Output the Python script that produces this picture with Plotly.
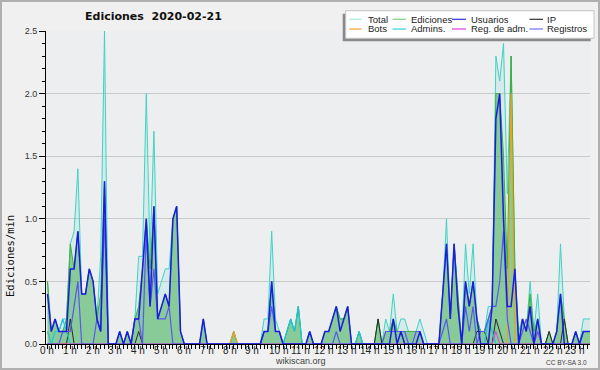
import plotly.graph_objects as go

# ---------------- data (edits per minute, 10-minute bins, 2020-02-21) ----------------
HOUR_LABELS = ["0 h", "1 h", "2 h", "3 h", "4 h", "5 h", "6 h", "7 h", "8 h", "9 h",
               "10 h", "11 h", "12 h", "13 h", "14 h", "15 h", "16 h", "17 h", "18 h",
               "19 h", "20 h", "21 h", "22 h", "23 h"]

TOTAL = [
    .5, .1, .2, .1, .2, .2,
    .8, .9, 1.4, .4, .4, .6,
    .5, .2, .7, 2.5, 0, 0,
    0, .1, 0, .1, 0, .2,
    .7, .7, 2.0, .7, 1.7, .4,
    .5, .6, .6, 1.0, 1.1, .1,
    0, 0, 0, 0, 0, .2,
    0, 0, 0, 0, 0, 0,
    0, .1, 0, 0, 0, 0,
    0, 0, 0, .2, .2, .9,
    .2, .1, 0, .1, .2, .1,
    .3, 0, 0, .1, 0, 0,
    0, .1, .1, .2, .3, .2,
    .2, .3, 0, 0, .1, 0,
    0, 0, 0, .2, 0, .2,
    .1, .4, .1, .2, .2, .1,
    .1, .1, .2, .1, 0, 0,
    0, 0, .4, 1.0, .2, .8,
    .4, 0, .8, .4, .8, .2,
    .1, .1, .3, .3, 2.3, 2.1,
    2.4, 1.2, 2.3, .6, .1, .2,
    .1, .5, .1, .4, 0, 0,
    .1, 0, .1, .8, .2, 0,
    0, .1, 0, .2, .2, .2,
]

EDICIONES = [
    .5, .1, .2, .1, .1, .2,
    .8, .6, .9, .4, .4, .6,
    .5, .2, .4, 1.3, 0, 0,
    0, .1, 0, .1, 0, .2,
    .3, .6, 1.0, .6, 1.1, .2,
    .3, .4, .3, 1.0, 1.1, .1,
    0, 0, 0, 0, 0, .2,
    0, 0, 0, 0, 0, 0,
    0, .1, 0, 0, 0, 0,
    0, 0, 0, .1, .1, .5,
    .1, .1, 0, .1, .2, .1,
    .3, 0, 0, .1, 0, 0,
    0, .1, .1, .2, .3, .2,
    .2, .3, 0, 0, .1, 0,
    0, 0, 0, .2, 0, .1,
    .1, .2, .1, .1, .1, .1,
    .1, .1, .1, 0, 0, 0,
    0, 0, .4, .8, .2, .8,
    .4, 0, .5, .3, .5, .2,
    .1, .1, .2, .3, 2.0, 2.0,
    1.5, .6, 2.3, .6, 0, .2,
    .1, .4, .1, .2, 0, 0,
    .1, 0, .1, .4, .2, 0,
    0, .1, 0, .1, .1, .1,
]

USUARIOS = [
    .4, .1, .2, .1, .1, .1,
    .6, .6, .9, .4, .4, .6,
    .5, .2, .1, 1.3, 0, 0,
    0, .1, 0, .1, 0, .2,
    .2, .6, 1.0, .3, 1.1, .2,
    .3, .4, .3, 1.0, 1.1, .1,
    0, 0, 0, 0, 0, .2,
    0, 0, 0, 0, 0, 0,
    0, 0, 0, 0, 0, 0,
    0, 0, 0, .1, .1, .5,
    .1, .1, 0, 0, 0, 0,
    0, 0, 0, .1, 0, 0,
    0, .1, .1, .2, .3, .1,
    .2, .3, 0, 0, 0, 0,
    0, 0, 0, 0, 0, 0,
    0, .2, 0, .1, 0, 0,
    0, 0, .1, 0, 0, 0,
    0, 0, .4, .8, .2, .8,
    .3, 0, .5, .3, .5, .2,
    0, 0, 0, .3, 1.8, 2.0,
    1.0, .3, .3, .6, 0, .2,
    .1, .3, 0, .2, 0, 0,
    0, 0, .1, .4, 0, 0,
    0, .1, 0, .1, .1, .1,
]

IP = [
    0, 0, 0, 0, 0, 0,
    .2, 0, 0, 0, 0, 0,
    0, 0, 0, 0, 0, 0,
    0, 0, 0, 0, 0, 0,
    .1, 0, 0, 0, 0, 0,
    0, 0, 0, 0, 0, 0,
    0, 0, 0, 0, 0, 0,
    0, 0, 0, 0, 0, 0,
    0, 0, 0, 0, 0, 0,
    0, 0, 0, 0, 0, 0,
    0, 0, 0, 0, 0, 0,
    0, 0, 0, 0, 0, 0,
    0, 0, 0, 0, 0, 0,
    0, 0, 0, 0, 0, 0,
    0, 0, 0, .2, 0, 0,
    0, 0, 0, 0, 0, 0,
    0, 0, 0, 0, 0, 0,
    0, 0, 0, 0, 0, 0,
    0, 0, 0, 0, 0, .1,
    .1, .1, 0, 0, .2, .1,
    0, 0, 0, 0, 0, 0,
    0, 0, 0, 0, 0, 0,
    .1, 0, 0, 0, .2, 0,
    0, 0, 0, 0, 0, 0,
]

BOTS = [
    .1, 0, 0, 0, 0, 0,
    0, 0, 0, 0, 0, 0,
    0, 0, 0, 0, 0, 0,
    0, 0, 0, 0, 0, 0,
    0, 0, 0, 0, 0, 0,
    0, 0, 0, 0, 0, 0,
    0, 0, 0, 0, 0, 0,
    0, 0, 0, 0, 0, 0,
    0, .1, 0, 0, 0, 0,
    0, 0, 0, 0, 0, 0,
    0, 0, 0, 0, 0, 0,
    0, 0, 0, 0, 0, 0,
    0, 0, 0, 0, 0, 0,
    0, 0, 0, 0, 0, 0,
    0, 0, 0, 0, 0, 0,
    0, 0, 0, 0, 0, 0,
    0, 0, 0, 0, 0, 0,
    0, 0, 0, 0, 0, 0,
    0, 0, 0, 0, 0, 0,
    0, 0, 0, 0, 0, 0,
    0, 0, 2.0, 0, 0, 0,
    0, 0, 0, .1, 0, 0,
    0, 0, 0, 0, 0, 0,
    0, 0, 0, 0, 0, 0,
]

ADMINS = [
    .1, 0, .1, .1, .2, .1,
    0, 0, 0, 0, 0, 0,
    0, 0, 0, 0, 0, 0,
    0, 0, 0, 0, 0, 0,
    0, 0, 0, 0, 0, 0,
    0, 0, 0, 0, 0, 0,
    0, 0, 0, 0, 0, 0,
    0, 0, 0, 0, 0, 0,
    0, 0, 0, 0, 0, 0,
    0, 0, 0, 0, 0, 0,
    0, 0, 0, .1, .2, .1,
    .3, 0, 0, 0, 0, 0,
    0, 0, 0, 0, 0, 0,
    0, 0, 0, 0, .1, 0,
    0, 0, 0, 0, 0, 0,
    0, 0, 0, 0, 0, 0,
    0, 0, 0, 0, 0, 0,
    0, 0, 0, 0, 0, 0,
    0, 0, 0, 0, 0, 0,
    0, 0, .2, .1, 0, 0,
    0, 0, 0, 0, 0, 0,
    0, 0, 0, 0, 0, 0,
    0, 0, 0, 0, 0, 0,
    0, 0, 0, 0, 0, 0,
]

REG_ADM = [
    0, 0, 0, 0, 0, 0,
    0, 0, 0, 0, 0, 0,
    0, 0, 0, 0, 0, 0,
    0, 0, 0, 0, 0, 0,
    0, 0, 0, 0, 0, 0,
    0, 0, 0, 0, 0, 0,
    0, 0, 0, 0, 0, 0,
    0, 0, 0, 0, 0, 0,
    0, 0, 0, 0, 0, 0,
    0, 0, 0, 0, 0, 0,
    0, 0, 0, 0, 0, 0,
    0, 0, 0, 0, 0, 0,
    0, 0, 0, 0, 0, 0,
    0, 0, 0, 0, 0, 0,
    0, 0, 0, 0, 0, 0,
    0, 0, 0, 0, 0, 0,
    0, 0, 0, 0, 0, 0,
    0, 0, 0, 0, 0, 0,
    0, 0, 0, 0, 0, 0,
    0, 0, 0, 0, .1, 0,
    0, 0, 0, 0, 0, 0,
    0, 0, 0, 0, 0, 0,
    0, 0, 0, 0, 0, 0,
    0, 0, 0, 0, 0, 0,
]

REGISTROS = [
    0, 0, 0, 0, .1, .1,
    .1, .3, .5, 0, 0, 0,
    0, .2, .1, 1.0, 0, 0,
    0, 0, 0, 0, 0, .2,
    .2, 0, .9, .3, .6, .2,
    .2, .2, .3, 0, 0, 0,
    0, 0, 0, 0, 0, 0,
    0, 0, 0, 0, 0, 0,
    0, 0, 0, 0, 0, 0,
    0, 0, 0, .1, .1, .3,
    .1, .1, 0, 0, 0, 0,
    0, 0, 0, 0, 0, 0,
    0, 0, 0, 0, .1, 0,
    0, 0, 0, 0, 0, 0,
    0, 0, 0, 0, 0, .1,
    .1, .1, .1, .1, .1, 0,
    0, .1, .1, 0, 0, 0,
    0, 0, .1, .2, 0, 0,
    0, 0, .3, .1, .3, 0,
    .1, .1, .2, .3, .3, .5,
    .9, .2, 0, 0, 0, .1,
    .2, .1, 0, .1, 0, 0,
    0, 0, 0, 0, 0, 0,
    0, 0, 0, .1, .1, .1,
]

BINS = list(range(len(TOTAL)))  # 10-minute bins

SERIES = [
    # name, values, colour, width, fill
    ("Total", TOTAL, "#3fd3c3", 1.0, "rgba(64,210,190,0.13)"),
    ("Ediciones", EDICIONES, "#3cb03c", 1.0, "rgba(60,170,70,0.5)"),
    ("IP", IP, "#2a2a2a", 1.0, None),
    ("Bots", BOTS, "#f0a020", 1.2, None),
    ("Admins.", ADMINS, "#1ec4e0", 1.2, None),
    ("Reg. de adm.", REG_ADM, "#e040e0", 1.0, None),
    ("Registros", REGISTROS, "#5858f0", 1.2, None),
    ("Usuarios", USUARIOS, "#1c1ce0", 1.5, None),
]

LEGEND_ROWS = [
    [("Total", "#a8e8e0"), ("Ediciones", "#80d080"), ("Usuarios", "#3030e8"), ("IP", "#303030")],
    [("Bots", "#f0a030"), ("Admins.", "#30d0e0"), ("Reg. de adm.", "#e040e0"), ("Registros", "#7070f8")],
]

# ---------------- layout geometry (pixels) ----------------
W, H = 600, 370
ML, MR, MT, MB = 46, 10, 31, 26
PW, PH = W - ML - MR, H - MT - MB
X0_PX, BIN_PX = 47.5, 3.8          # pixel of first bin, pixels per bin


def pxx(xp):
    return (xp - ML) / PW


def pxy(yp):
    return (H - MB - yp) / PH


def px_to_bin(xp):
    return (xp - X0_PX) / BIN_PX


FONT = "Liberation Sans, Arial, sans-serif"

fig = go.Figure()
for name, vals, color, width, fill in SERIES:
    fig.add_trace(go.Scatter(
        x=BINS, y=vals, name=name, mode="lines",
        line=dict(color=color, width=width),
        fill="tozeroy" if fill else None,
        fillcolor=fill,
        showlegend=False, hoverinfo="skip",
    ))

shapes = []
annotations = []

# outer frame
shapes.append(dict(type="rect", xref="paper", yref="paper",
                   x0=pxx(1), x1=pxx(599), y0=pxy(369), y1=pxy(1),
                   line=dict(color="#b0b0b0", width=2), fillcolor="rgba(0,0,0,0)",
                   layer="above"))

# legend: shadow + box
shapes.append(dict(type="rect", xref="paper", yref="paper",
                   x0=pxx(342.7), x1=pxx(590.7), y0=pxy(41.3), y1=pxy(13.7),
                   line=dict(width=0), fillcolor="#8a8a8a", layer="above"))
shapes.append(dict(type="rect", xref="paper", yref="paper",
                   x0=pxx(345.7), x1=pxx(594), y0=pxy(38.3), y1=pxy(10.7),
                   line=dict(color="#c4c4c4", width=1), fillcolor="#ffffff", layer="above"))
col_swatch = [(349.3, 361.5), (392.5, 406), (452, 466), (529.5, 543)]
col_text = [366, 408.5, 468.5, 545]
row_y = [19.3, 29.0]
for r, row in enumerate(LEGEND_ROWS):
    for c, (label, color) in enumerate(row):
        sx0, sx1 = col_swatch[c]
        shapes.append(dict(type="line", xref="paper", yref="paper",
                           x0=pxx(sx0), x1=pxx(sx1), y0=pxy(row_y[r]), y1=pxy(row_y[r]),
                           line=dict(color=color, width=1.2), layer="above"))
        annotations.append(dict(text=label, xref="paper", yref="paper",
                                x=pxx(col_text[c]), y=pxy(row_y[r]),
                                xanchor="left", yanchor="middle", showarrow=False,
                                font=dict(family=FONT, size=9.5, color="#222")))

# title
annotations.append(dict(text="<b>Ediciones\u00a0 2020-02-21</b>", xref="paper", yref="paper",
                        x=pxx(153.3), y=pxy(16.7), xanchor="center", yanchor="middle",
                        showarrow=False,
                        font=dict(family="DejaVu Sans, sans-serif", size=11, color="#111")))
# y-axis title
annotations.append(dict(text="Ediciones/min", xref="paper", yref="paper",
                        x=pxx(10), y=pxy(256), xanchor="center", yanchor="middle",
                        textangle=-90, showarrow=False,
                        font=dict(family="DejaVu Sans Mono, monospace", size=10.5, color="#111")))
# hour labels on the x axis
for h, lab in enumerate(HOUR_LABELS):
    left = 40 + 22.83 * h
    half = 7 if len(lab) == 3 else 9.8
    annotations.append(dict(text=lab, xref="x", yref="paper",
                            x=px_to_bin(left + half), y=pxy(350.8),
                            xanchor="center", yanchor="middle", showarrow=False,
                            font=dict(family=FONT, size=10, color="#222")))
# footer texts
annotations.append(dict(text="wikiscan.org", xref="paper", yref="paper",
                        x=pxx(300), y=pxy(361), xanchor="center", yanchor="middle",
                        showarrow=False, font=dict(family=FONT, size=9, color="#444")))
annotations.append(dict(text="CC BY-SA 3.0", xref="paper", yref="paper",
                        x=pxx(589), y=pxy(362), xanchor="right", yanchor="middle",
                        showarrow=False, font=dict(family=FONT, size=6.5, color="#444")))

fig.update_layout(
    width=W, height=H,
    margin=dict(l=ML, r=MR, t=MT, b=MB, pad=0),
    paper_bgcolor="#f0f0f0",
    plot_bgcolor="#eceef0",
    showlegend=False,
    shapes=shapes,
    annotations=annotations,
    xaxis=dict(
        range=[px_to_bin(ML), px_to_bin(W - MR)],
        tickmode="linear", tick0=0, dtick=1,
        ticks="outside", ticklen=4, tickwidth=1, tickcolor="#000",
        showticklabels=False, showgrid=False, zeroline=False,
        showline=True, linecolor="#000", linewidth=1,
        fixedrange=True,
    ),
    yaxis=dict(
        range=[0, 2.5],
        tickmode="linear", tick0=0, dtick=0.5, tickformat=".1f",
        ticks="outside", ticklen=6, tickwidth=1, tickcolor="#000",
        minor=dict(dtick=0.1, ticks="outside", ticklen=3, tickcolor="#000", showgrid=False),
        showgrid=True, gridcolor="#c9c9c9", gridwidth=1,
        zeroline=False, showline=True, linecolor="#000", linewidth=1,
        tickfont=dict(family=FONT, size=9, color="#333"),
        fixedrange=True,
    ),
)

fig.write_html("out.html", config={"displayModeBar": False},
               post_script="document.body.style.margin='0px';document.body.style.overflow='hidden';")
